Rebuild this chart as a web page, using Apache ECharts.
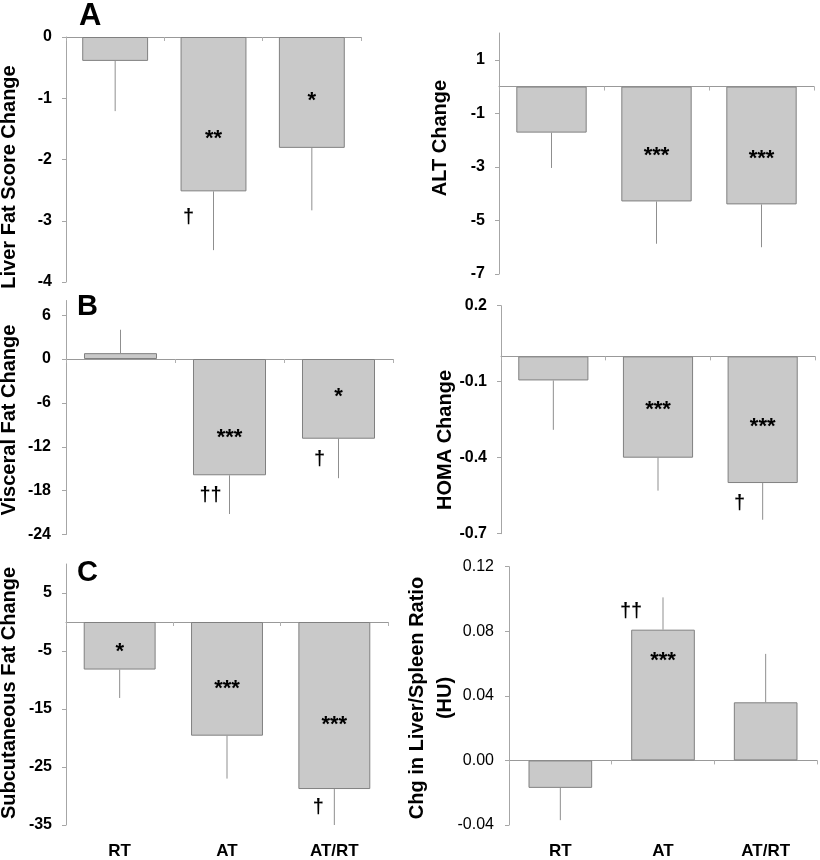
<!DOCTYPE html>
<html>
<head>
<meta charset="utf-8">
<script src="https://cdn.jsdelivr.net/npm/echarts@6/dist/echarts.min.js"></script>
<style>
html,body{margin:0;padding:0;background:#ffffff;}
#chart{width:820px;height:860px;}
</style>
</head>
<body>
<div id="chart"></div>
<script>
// ---------------- DATA ----------------
const categories = ['RT', 'AT', 'AT/RT'];

// Panel A (left) – Liver fat score
const liverFatMean = [-0.39, -2.52, -1.81];
const liverFatErr = [0.82, 0.96, 1.02];
const liverFatTicks = [-4, -3, -2, -1, 0];
const liverFatMarks = [['AT', -1.58, '**'], ['AT/RT', -0.97, '*'], ['AT', -2.94, '†']];

// Panel A (right) – ALT
const altMean = [-1.72, -4.29, -4.40];
const altErr = [1.32, 1.58, 1.60];
const altTicks = [-7, -5, -3, -1, 1];
const altMarks = [['AT', -2.40, '***'], ['AT/RT', -2.50, '***']];

// Panel B (left) – Visceral fat
const visceralMean = [0.8, -15.9, -10.9];
const visceralErr = [3.2, 5.3, 5.4];
const visceralTicks = [-24, -18, -12, -6, 0, 6];
const visceralMarks = [['AT', -10.1, '***'], ['AT/RT', -4.5, '*'], ['AT', -18.7, '††'], ['AT/RT', -13.7, '†']];

// Panel B (right) – HOMA
const homaMean = [-0.095, -0.40, -0.50];
const homaErr = [0.195, 0.13, 0.145];
const homaTicks = [-0.7, -0.4, -0.1, 0.2];
const homaMarks = [['AT', -0.192, '***'], ['AT/RT', -0.259, '***'], ['AT/RT', -0.579, '†']];

// Panel C (left) – Subcutaneous fat
const subcutMean = [-8.2, -19.6, -28.8];
const subcutErr = [4.9, 7.4, 6.2];
const subcutTicks = [-35, -25, -15, -5, 5];
const subcutMarks = [['RT', -4.35, '*'], ['AT', -10.7, '***'], ['AT/RT', -16.8, '***'], ['AT/RT', -32.0, '†']];

// Panel C (right) – Liver/spleen ratio
const ratioMean = [-0.017, 0.081, 0.036];
const ratioErr = [0.020, 0.020, 0.030];
const ratioTicks = [-0.04, 0.00, 0.04, 0.08, 0.12];
const ratioMarks = [['AT', 0.092, '††'], ['AT', 0.0647, '***']];

// ---------------- LAYOUT ----------------
const FONT = "'Liberation Sans', Arial, sans-serif";
const panels = [
  {mean: liverFatMean, err: liverFatErr, ticks: liverFatTicks, marks: liverFatMarks,
   title: 'Liver Fat Score Change', min: -4, max: 0, interval: 1, digits: 0,
   grid: {left: 66, top: 37, width: 295, height: 245}, labelMargin: 14, boldTicks: true,
   titleX: 9, titleY: 177, daggerDx: -25, gap: '33%', xLabels: false},
  {mean: altMean, err: altErr, ticks: altTicks, marks: altMarks,
   title: 'ALT Change', min: -7, max: 2, interval: 2, digits: 0,
   grid: {left: 499, top: 33, width: 315, height: 241}, labelMargin: 14, boldTicks: true,
   titleX: 440, titleY: 138, daggerDx: -22, gap: '33%', xLabels: false},
  {mean: visceralMean, err: visceralErr, ticks: visceralTicks, marks: visceralMarks,
   title: 'Visceral Fat Change', min: -24, max: 8, interval: 6, digits: 0,
   grid: {left: 66, top: 300.5, width: 327, height: 234}, labelMargin: 15, boldTicks: true,
   titleX: 9, titleY: 420, daggerDx: -19, gap: '33%', xLabels: false},
  {mean: homaMean, err: homaErr, ticks: homaTicks, marks: homaMarks,
   title: 'HOMA Change', min: -0.7, max: 0.2, interval: 0.3, digits: 1,
   grid: {left: 501, top: 305.7, width: 314, height: 228}, labelMargin: 14, boldTicks: true,
   titleX: 445, titleY: 440, daggerDx: -23, gap: '33%', xLabels: false},
  {mean: subcutMean, err: subcutErr, ticks: subcutTicks, marks: subcutMarks,
   title: 'Subcutaneous Fat Change', min: -35, max: 10, interval: 10, digits: 0,
   grid: {left: 66, top: 564, width: 322, height: 264}, labelMargin: 14, boldTicks: true,
   titleX: 9, titleY: 693, daggerDx: -16, gap: '33%', xLabels: true},
  {mean: ratioMean, err: ratioErr, ticks: ratioTicks, marks: ratioMarks,
   title: 'Chg in Liver/Spleen Ratio\n(HU)', min: -0.04, max: 0.12, interval: 0.04, digits: 2,
   grid: {left: 509, top: 566.7, width: 308, height: 261}, labelMargin: 15, boldTicks: false,
   titleX: 431, titleY: 698, daggerDx: -32, gap: '38%', xLabels: true}
];

const AXIS_GREY = '#a6a6a6';
const grids = [], xAxes = [], yAxes = [], series = [], graphics = [];

panels.forEach((p, i) => {
  grids.push(Object.assign({containLabel: false}, p.grid));
  const mainX = xAxes.length;
  xAxes.push({
    gridIndex: i, type: 'category', data: categories,
    axisLine: {show: true, onZero: true, lineStyle: {color: '#999999', width: 1}},
    axisTick: {show: true, length: 4, lineStyle: {color: '#b0b0b0'}},
    axisLabel: {show: false}, splitLine: {show: false}
  });
  if (p.xLabels) {
    xAxes.push({
      gridIndex: i, type: 'category', data: categories, position: 'bottom',
      axisLine: {show: false, onZero: false}, axisTick: {show: false},
      axisLabel: {show: true, margin: 18, fontSize: 17, fontWeight: 'bold', color: '#000', fontFamily: FONT},
      splitLine: {show: false}
    });
  }
  yAxes.push({
    gridIndex: i, type: 'value', min: p.min, max: p.max, interval: p.interval,
    axisLine: {show: true, lineStyle: {color: AXIS_GREY, width: 1}},
    axisTick: {show: true, length: 4, customValues: p.ticks, lineStyle: {color: AXIS_GREY}},
    axisLabel: {
      show: true, customValues: p.ticks, margin: p.labelMargin,
      fontSize: 16, fontWeight: p.boldTicks ? 'bold' : 'normal',
      color: '#000', fontFamily: FONT,
      formatter: v => Number(v).toFixed(p.digits)
    },
    splitLine: {show: false}
  });

  series.push({
    type: 'bar', xAxisIndex: mainX, yAxisIndex: i, data: p.mean,
    barCategoryGap: p.gap,
    itemStyle: {color: '#c9c9c9', borderColor: '#808080', borderWidth: 1},
    z: 2
  });

  series.push({
    type: 'custom', xAxisIndex: mainX, yAxisIndex: i, z: 3, clip: false,
    data: p.mean.map((m, k) => [k, m, p.err[k]]),
    encode: {x: 0, y: 1},
    renderItem: (params, api) => {
      const x = api.value(0), m = api.value(1), e = api.value(2);
      const end = m >= 0 ? m + e : m - e;
      const a = api.coord([x, m]), b = api.coord([x, end]);
      return {type: 'line', shape: {x1: a[0], y1: a[1], x2: b[0], y2: b[1]},
              style: {stroke: '#8f8f8f', lineWidth: 1}};
    }
  });

  series.push({
    type: 'custom', xAxisIndex: mainX, yAxisIndex: i, z: 5, clip: false,
    data: p.marks.map(mk => [categories.indexOf(mk[0]), mk[1]]),
    encode: {x: 0, y: 1},
    renderItem: (params, api) => {
      const mk = p.marks[params.dataIndex];
      const pt = api.coord([api.value(0), api.value(1)]);
      const dagger = mk[2].indexOf('†') >= 0;
      const fs = dagger ? 20 : 22;
      return {type: 'text', x: pt[0] + (dagger ? p.daggerDx : 0), y: pt[1] + (dagger ? 0 : 5),
              style: {text: mk[2], align: 'center', verticalAlign: 'middle',
                      font: 'bold ' + fs + 'px ' + FONT, fill: '#000'}};
    }
  });

  graphics.push({
    type: 'text', x: p.titleX, y: p.titleY, rotation: Math.PI / 2,
    style: {text: p.title, align: 'center', verticalAlign: 'middle',
            font: 'bold 20px ' + FONT, fill: '#000', lineHeight: 28}
  });
});

[['A', 79, 16, 31], ['B', 77, 307, 29], ['C', 77, 573, 29]].forEach(l => {
  graphics.push({type: 'text', x: l[1], y: l[2],
    style: {text: l[0], align: 'left', verticalAlign: 'middle', font: 'bold ' + l[3] + 'px ' + FONT, fill: '#000'}});
});

const chart = echarts.init(document.getElementById('chart'), null, {renderer: 'canvas'});
chart.setOption({
  animation: false,
  backgroundColor: '#ffffff',
  grid: grids, xAxis: xAxes, yAxis: yAxes, series: series, graphic: graphics
});
</script>
</body>
</html>
